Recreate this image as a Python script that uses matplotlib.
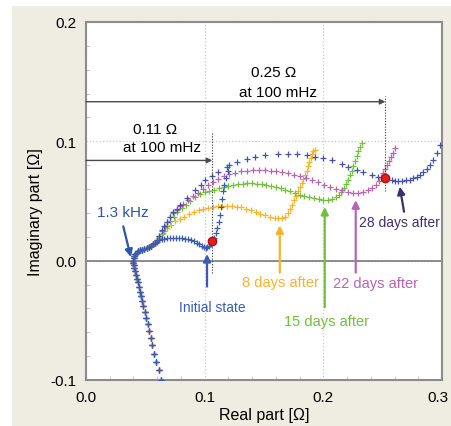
import matplotlib.pyplot as plt
from matplotlib.patches import Rectangle
from matplotlib.ticker import MultipleLocator, FuncFormatter, FormatStrFormatter

plt.rcParams['font.family'] = ['Liberation Sans', 'DejaVu Sans']

# shared high-frequency (inductive) tail
tail_x = [0.0634, 0.0612, 0.0592, 0.0575, 0.0560, 0.0546, 0.0533, 0.0520, 0.0508, 0.0496,
          0.0484, 0.0473, 0.0462, 0.0452, 0.0443, 0.0434, 0.0426, 0.0418, 0.0411, 0.0405,
          0.0401, 0.0398, 0.0398, 0.0401, 0.0407, 0.0416, 0.0428, 0.0442, 0.0458, 0.0475,
          0.0492, 0.0510, 0.0528, 0.0545, 0.0562, 0.0578]
tail_y = [-0.100, -0.092, -0.085, -0.078, -0.071, -0.065, -0.059, -0.053, -0.048, -0.043,
          -0.038, -0.034, -0.030, -0.026, -0.022, -0.018, -0.015, -0.012, -0.009, -0.006,
          -0.004, -0.002, 0.000, 0.002, 0.004, 0.0055, 0.0068, 0.0078, 0.0086, 0.0093,
          0.0100, 0.0107, 0.0115, 0.0125, 0.0137, 0.0150]

init_x = [0.0595, 0.0615, 0.0637, 0.066, 0.0685, 0.071, 0.0735, 0.076, 0.0785, 0.081,
          0.0835, 0.086, 0.0885, 0.091, 0.0935, 0.0955, 0.0975, 0.0993, 0.1008, 0.1022,
          0.1036, 0.105, 0.1064, 0.1078, 0.1092, 0.1105, 0.1117, 0.1128, 0.1138, 0.1148,
          0.1157, 0.1165, 0.118, 0.1195, 0.1205]
init_y = [0.0160, 0.0170, 0.0178, 0.0184, 0.0188, 0.0190, 0.0191, 0.0191, 0.0190, 0.0188,
          0.0185, 0.0180, 0.0173, 0.0163, 0.0150, 0.0138, 0.0125, 0.0115, 0.0110, 0.0112,
          0.0122, 0.0140, 0.0163, 0.0192, 0.0228, 0.027, 0.032, 0.038, 0.045, 0.052,
          0.058, 0.063, 0.069, 0.075, 0.080]

d8_x = [0.060, 0.0625, 0.065, 0.068, 0.0715, 0.075, 0.079, 0.083, 0.087, 0.091,
        0.095, 0.099, 0.103, 0.107, 0.111, 0.115, 0.119, 0.123, 0.127, 0.131,
        0.135, 0.139, 0.143, 0.147, 0.151, 0.155, 0.159, 0.162, 0.165, 0.168,
        0.170, 0.172, 0.1738, 0.1755, 0.1772, 0.1788, 0.1803, 0.1818, 0.1832, 0.1846,
        0.1859, 0.1871, 0.1882, 0.1892, 0.1902, 0.1915, 0.1928]
d8_y = [0.017, 0.020, 0.023, 0.027, 0.030, 0.033, 0.035, 0.037, 0.039, 0.041,
        0.0425, 0.0437, 0.0445, 0.045, 0.0455, 0.0458, 0.0458, 0.0456, 0.0452, 0.0446,
        0.0437, 0.0425, 0.041, 0.0393, 0.0379, 0.0368, 0.0361, 0.0358, 0.036, 0.037,
        0.040, 0.0435, 0.047, 0.051, 0.0545, 0.058, 0.0615, 0.065, 0.0685, 0.072,
        0.0755, 0.079, 0.0825, 0.086, 0.089, 0.0915, 0.0925]

d15_x = [0.0595, 0.0615, 0.0638, 0.066, 0.0685, 0.071, 0.0738, 0.077, 0.0805, 0.084,
         0.088, 0.092, 0.096, 0.100, 0.104, 0.108, 0.112, 0.116, 0.120, 0.124,
         0.128, 0.132, 0.136, 0.140, 0.144, 0.148, 0.152, 0.156, 0.160, 0.164,
         0.168, 0.172, 0.176, 0.180, 0.184, 0.188, 0.192, 0.196, 0.200, 0.204,
         0.2075, 0.2105, 0.213, 0.215, 0.217, 0.2188, 0.2205, 0.2222, 0.2238, 0.2254,
         0.2268, 0.2282, 0.2296, 0.231, 0.2322]
d15_y = [0.0165, 0.019, 0.022, 0.025, 0.029, 0.033, 0.037, 0.041, 0.044, 0.047,
         0.050, 0.053, 0.0555, 0.0573, 0.0585, 0.0596, 0.0608, 0.0618, 0.0627, 0.0635,
         0.0641, 0.0645, 0.0648, 0.0648, 0.0646, 0.0643, 0.0637, 0.0629, 0.0619, 0.0607,
         0.0594, 0.058, 0.0566, 0.0553, 0.0541, 0.0531, 0.0522, 0.0515, 0.0511, 0.0511,
         0.0516, 0.053, 0.055, 0.0578, 0.061, 0.0645, 0.068, 0.0718, 0.0755, 0.0795,
         0.0835, 0.0875, 0.0915, 0.0955, 0.0985]

d22_x = [0.0595, 0.0617, 0.064, 0.0662, 0.0685, 0.071, 0.0737, 0.0765, 0.0795, 0.082,
         0.086, 0.0904, 0.0945, 0.0989, 0.103, 0.1073, 0.1115, 0.116, 0.1205, 0.1255,
         0.1305, 0.1354, 0.1405, 0.1455, 0.1505, 0.1555, 0.1605, 0.1655, 0.1705, 0.1755,
         0.1805, 0.1855, 0.1905, 0.1955, 0.2005, 0.2055, 0.2105, 0.2155, 0.2205, 0.225,
         0.2295, 0.2335, 0.2375, 0.241, 0.244, 0.2465, 0.2485, 0.2503, 0.252, 0.2538,
         0.2556, 0.2574, 0.259, 0.2605]
d22_y = [0.017, 0.0205, 0.0245, 0.0285, 0.0325, 0.0365, 0.0400, 0.0425, 0.0455, 0.0478,
         0.051, 0.0538, 0.057, 0.0600, 0.063, 0.066, 0.0687, 0.0708, 0.0725, 0.0738,
         0.0748, 0.0755, 0.0758, 0.0758, 0.0756, 0.0753, 0.0749, 0.0742, 0.0733, 0.0722,
         0.0709, 0.0694, 0.0676, 0.0657, 0.0638, 0.0619, 0.0602, 0.0588, 0.0577, 0.0571,
         0.0571, 0.0577, 0.0592, 0.0613, 0.0638, 0.0668, 0.0701, 0.0735, 0.0768, 0.0802,
         0.0836, 0.087, 0.0905, 0.094]

d28_x = [0.0595, 0.0617, 0.0638, 0.066, 0.068, 0.071, 0.0736, 0.0765, 0.0792, 0.0848,
         0.0918, 0.0965, 0.1003, 0.106, 0.1115, 0.119, 0.127, 0.1354, 0.1424, 0.151,
         0.162, 0.1705, 0.1775, 0.186, 0.193, 0.200, 0.207, 0.2154, 0.221, 0.228,
         0.2336, 0.2407, 0.2463, 0.252, 0.2576, 0.2603, 0.263, 0.2665, 0.270, 0.273,
         0.2758, 0.2787, 0.2815, 0.2843, 0.287, 0.290, 0.2927, 0.2955, 0.298]
d28_y = [0.017, 0.021, 0.0254, 0.029, 0.0327, 0.0368, 0.0408, 0.0437, 0.0464, 0.0522,
         0.059, 0.063, 0.0673, 0.0712, 0.0745, 0.0788, 0.0827, 0.0855, 0.087, 0.0883,
         0.0897, 0.0897, 0.0897, 0.0883, 0.087, 0.086, 0.084, 0.0813, 0.0785, 0.0757,
         0.0743, 0.072, 0.070, 0.0687, 0.0673, 0.0670, 0.0670, 0.0670, 0.0673, 0.068,
         0.0692, 0.0703, 0.0718, 0.074, 0.077, 0.0805, 0.0843, 0.0905, 0.0966]

# points at 100 mHz
red_x = [0.1064, 0.2523]
red_y = [0.0163, 0.0696]

c_init = '#3a5cb0'
c_8 = '#f6b42c'
c_15 = '#72bf3f'
c_22 = '#b764b4'
c_28 = '#4552ad'
c_txt28 = '#3d2f6b'

fig = plt.figure(figsize=(4.51, 4.27), dpi=100)
fig.patch.set_facecolor('white')
fig.patches.append(Rectangle((12 / 451, 0), 1, 420 / 427, transform=fig.transFigure,
                             facecolor='#efede1', edgecolor='none', zorder=-10))
ax = fig.add_axes([86 / 451, 46 / 427, 356 / 451, 358 / 427])
ax.set_facecolor('white')

ms = 3.8
mew = 0.9
for xs, ys, c in [(d8_x, d8_y, c_8), (d15_x, d15_y, c_15), (d22_x, d22_y, c_22),
                  (d28_x, d28_y, c_28), (init_x, init_y, c_init)]:
    ax.plot(tail_x + xs, tail_y + ys, '+', color=c, ms=ms, mew=mew, zorder=3)

ax.plot(red_x, red_y, 'o', color='#e02020', mec='#b01010', ms=6, zorder=5)

ax.set_xlim(0, 0.3)
ax.set_ylim(-0.1, 0.2)
ax.xaxis.set_major_locator(MultipleLocator(0.1))
ax.yaxis.set_major_locator(MultipleLocator(0.1))
ax.xaxis.set_minor_locator(MultipleLocator(0.02))
ax.yaxis.set_minor_locator(MultipleLocator(0.02))
# the 0.3 label is drawn separately, a bit left, so it stays inside the picture
ax.xaxis.set_major_formatter(FuncFormatter(lambda v, p: '' if v > 0.29 else f'{v:.1f}'))
ax.yaxis.set_major_formatter(FormatStrFormatter('%.1f'))
ax.tick_params(which='major', length=0, labelsize=11, pad=7)
ax.tick_params(which='minor', direction='in', length=3, color='#c0c0c0')
for s in ax.spines.values():
    s.set_color('#8c8c8c')
    s.set_linewidth(1.5)
ax.grid(which='major', color='#c8c8c8', ls=':', lw=0.9)
ax.axhline(0, color='#7a7a7a', lw=1.2, zorder=2)
ax.annotate('0.3', xy=(0.3, 0), xycoords=('data', 'axes fraction'), xytext=(-3, -7),
            textcoords='offset points', ha='center', va='top', fontsize=11)

ax.set_xlabel('Real part [Ω]', fontsize=11.5, va='center')
ax.set_ylabel('Imaginary part [Ω]', fontsize=11.5, va='center')
ax.xaxis.set_label_coords(0.5, -0.095)
ax.yaxis.set_label_coords(-0.143, 0.472)

# resistance at 100 mHz markers
gray = '#4a4a4a'
ax.vlines(red_x[0], -0.01, 0.108, colors='#333333', ls=(0, (1, 1.5)), lw=0.8, zorder=4)
ax.vlines(red_x[1], 0.058, 0.138, colors='#333333', ls=(0, (1, 1.5)), lw=0.8, zorder=4)
ax.annotate('', xy=(red_x[0], 0.084), xytext=(0.0, 0.084),
            arrowprops=dict(arrowstyle='-|>', color=gray, lw=1, mutation_scale=8,
                            shrinkA=0, shrinkB=0))
ax.annotate('', xy=(red_x[1], 0.1332), xytext=(0.0, 0.1332),
            arrowprops=dict(arrowstyle='-|>', color=gray, lw=1, mutation_scale=8,
                            shrinkA=0, shrinkB=0))
ax.text(0.058, 0.110, '0.11 Ω', ha='center', va='center', fontsize=11)
ax.text(0.064, 0.095, 'at 100 mHz', ha='center', va='center', fontsize=11)
ax.text(0.158, 0.158, '0.25 Ω', ha='center', va='center', fontsize=11)
ax.text(0.162, 0.1417, 'at 100 mHz', ha='center', va='center', fontsize=11)

def label_arrow(txt, tx, ty, x0, y0, x1, y1, c, fs=10.5):
    ax.annotate('', xy=(x1, y1), xytext=(x0, y0),
                arrowprops=dict(arrowstyle='-|>', color=c, lw=1.6, mutation_scale=11,
                                shrinkA=0, shrinkB=0), zorder=4)
    ax.text(tx, ty, txt, color=c, ha='center', va='center', fontsize=fs)

label_arrow('1.3 kHz', 0.031, 0.041, 0.0314, 0.0287, 0.0378, 0.003, '#2d55a8', 11)
label_arrow('Initial state', 0.1066, -0.0386, 0.102, -0.0217, 0.102, 0.0056, c_init, 10)
label_arrow('8 days after', 0.164, -0.0177, 0.1633, -0.010, 0.1633, 0.0296, c_8)
label_arrow('15 days after', 0.2026, -0.0507, 0.2012, -0.039, 0.2012, 0.045, c_15)
label_arrow('22 days after', 0.244, -0.0189, 0.2273, -0.010, 0.2273, 0.0507, c_22)
label_arrow('28 days after', 0.2638, 0.0324, 0.268, 0.041, 0.2644, 0.062, c_txt28, 10)

fig.savefig('out.png', dpi=100, facecolor=fig.get_facecolor())
